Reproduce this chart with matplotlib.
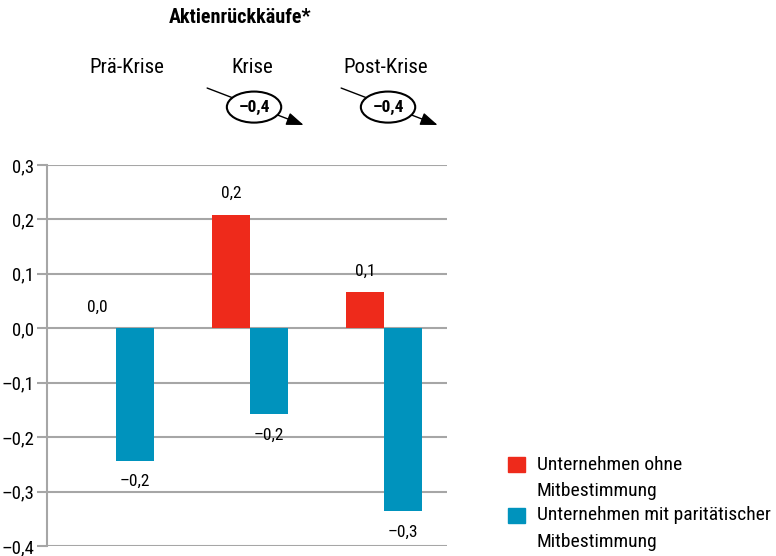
import matplotlib
matplotlib.use("Agg")
from matplotlib import pyplot as plt
from matplotlib.patches import Rectangle
import numpy as np

# Werte
categories = ["Prä-Krise", "Krise", "Post-Krise"]
ohne_mb = [0.0, 0.209, 0.066]
paritaetisch = [-0.243, -0.158, -0.336]
labels_ohne = ["0,0", "0,2", "0,1"]
labels_mit = ["–0,2", "–0,2", "–0,3"]
changes = [None, "–0,4", "–0,4"]
y_ticks = [0.3, 0.2, 0.1, 0.0, -0.1, -0.2, -0.3, -0.4]
y_ticklabels = ["0,3", "0,2", "0,1", "0,0", "–0,1", "–0,2", "–0,3", "–0,4"]
legend_labels = ["Unternehmen ohne\nMitbestimmung",
                 "Unternehmen mit paritätischer\nMitbestimmung"]

red = "#ee2a1b"
blue = "#0093bd"
grid = "#a6a6a6"

plt.rcParams["font.family"] = ["Roboto Condensed", "DejaVu Sans"]
plt.rcParams["font.stretch"] = "condensed"
plt.rcParams["font.size"] = 13

fig = plt.figure(figsize=(7.76, 5.56), dpi=100)
ax = fig.add_axes([47 / 776, 10 / 556, 400 / 776, 381 / 556])

x = np.arange(len(categories))
w = 0.284
ax.bar(x - w / 2, ohne_mb, width=w, color=red, zorder=3)
ax.bar(x + w / 2, paritaetisch, width=w, color=blue, zorder=3)

for i in range(len(categories)):
    ax.annotate(labels_ohne[i], (x[i] - w / 2, max(ohne_mb[i], 0)), xytext=(0, 15),
                textcoords="offset points", ha="center", va="center", fontsize=12.5)
    ax.annotate(labels_mit[i], (x[i] + w / 2, paritaetisch[i]), xytext=(0, -15),
                textcoords="offset points", ha="center", va="center", fontsize=12.5)

ax.set_xlim(-0.515, 2.47)
ax.set_ylim(-0.4, 0.3)
ax.set_yticks(y_ticks)
ax.set_yticklabels(y_ticklabels)
ax.set_xticks([])
for t in y_ticks:
    ax.axhline(t, color=grid, lw=1.5, zorder=1)
for s in ["top", "right", "bottom"]:
    ax.spines[s].set_visible(False)
ax.spines["left"].set_color(grid)
ax.spines["left"].set_linewidth(1.5)
ax.tick_params(axis="y", length=7, width=1.5, color=grid, pad=2, labelsize=13.5)

# Kopfzeilen und Veränderungspfeile
trans = ax.get_xaxis_transform()
head_dx = [0.08, 0.02, 0.015]
for i, cat in enumerate(categories):
    ax.text(x[i] + head_dx[i], 1.255, cat, transform=trans, ha="center", va="center",
            fontsize=15, clip_on=False)
    if changes[i]:
        ax.annotate("", xy=(x[i] + 0.40, 1.105), xytext=(x[i] - 0.32, 1.202),
                    xycoords=trans, textcoords=trans,
                    arrowprops=dict(arrowstyle="-|>,head_length=0.8,head_width=0.3",
                                    color="black", lw=1.0, shrinkA=0, shrinkB=0))
        ax.text(x[i] + 0.03, 1.152, changes[i], transform=trans, ha="center",
                va="center", fontsize=12.5, fontweight="bold",
                bbox=dict(boxstyle="ellipse,pad=0.2", fc="white", ec="black", lw=1.5))

ax.text(x[1] - 0.075, 1.386, "Aktienrückkäufe*", transform=trans, ha="center",
        va="center", fontsize=14.5, fontweight="bold")

# Legende (Kästchen an der ersten Zeile ausgerichtet)
W, H = 776, 556
for col, lab, ytop in zip([red, blue], legend_labels, [457, 508]):
    fig.add_artist(Rectangle((508 / W, 1 - (ytop + 15) / H), 17 / W, 15 / H,
                             transform=fig.transFigure, color=col))
    fig.text(537 / W, 1 - (ytop + 7.5) / H, lab.split("\n")[0], ha="left",
             va="center", fontsize=14)
    fig.text(537 / W, 1 - (ytop + 34) / H, lab.split("\n")[1], ha="left",
             va="center", fontsize=14)

fig.savefig("out.png", dpi=100)
